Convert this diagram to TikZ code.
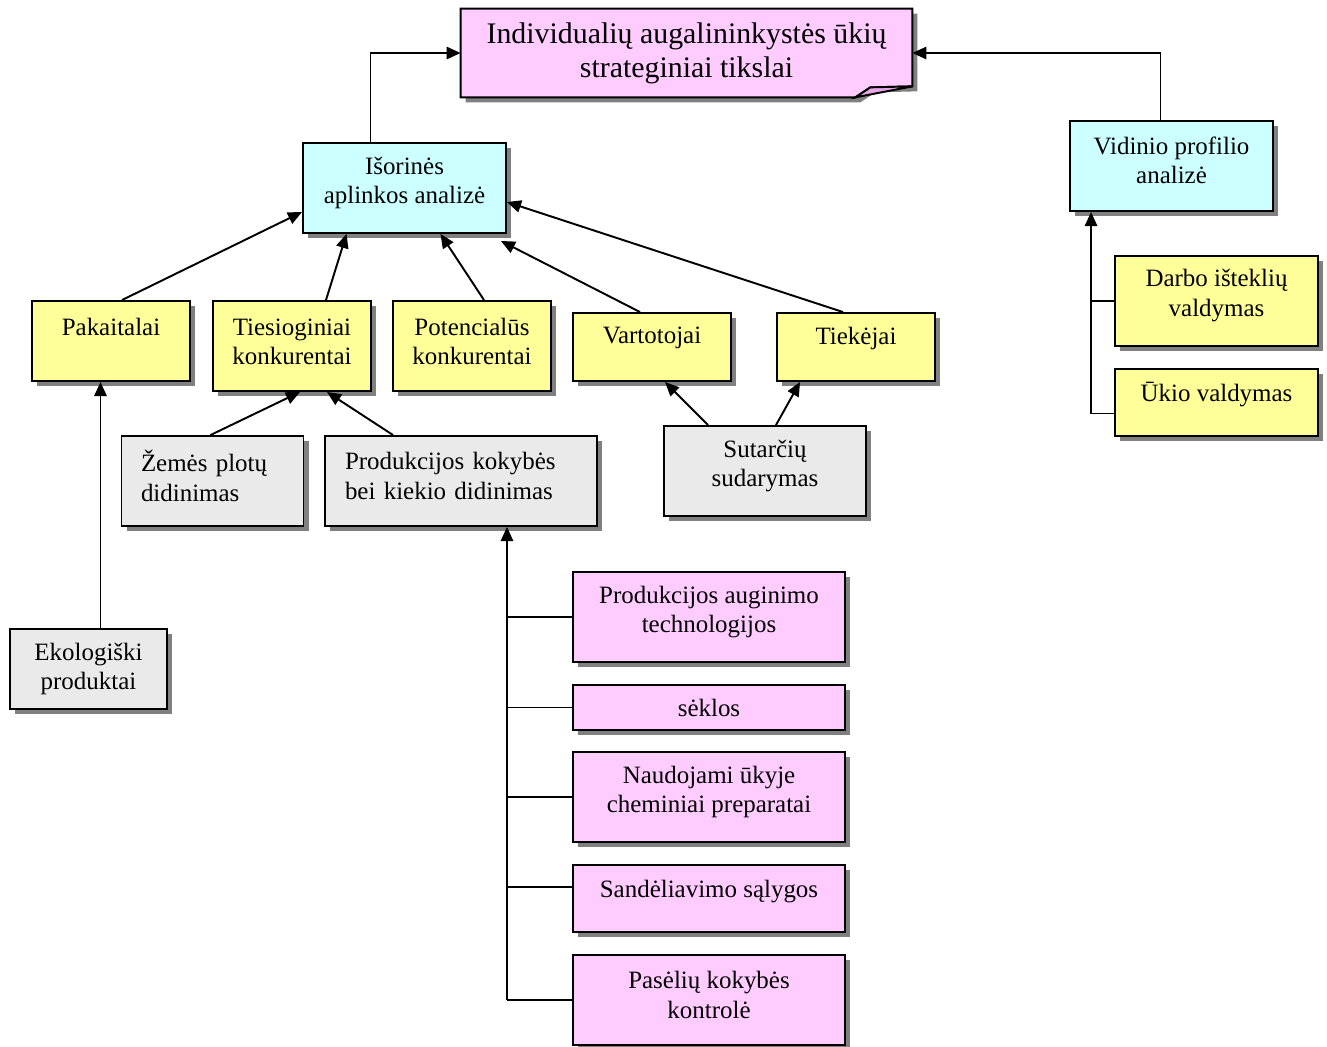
\documentclass[tikz,border=0pt]{standalone}
\usepackage{fontspec}
\setmainfont{Liberation Serif}
\usetikzlibrary{arrows.meta,shadows,backgrounds}

\definecolor{cyanfill}{HTML}{CCFFFF}
\definecolor{yellowfill}{HTML}{FFFF99}
\definecolor{grayfill}{HTML}{EAEAEA}
\definecolor{pinkfill}{HTML}{FFCCFF}
\definecolor{foldfill}{HTML}{E6A6E6}
\definecolor{shadowgray}{HTML}{808080}

\newcommand{\px}{0.02cm}

\tikzset{
  boxshadow/.style={drop shadow={shadow xshift=5*\px, shadow yshift=-5*\px,
    fill=shadowgray, opacity=1}},
  box/.style={draw, line width=1.1pt, align=center, inner sep=2pt,
    font=\fontsize{14.2}{16.8}\selectfont, boxshadow},
  cyanbox/.style={box, fill=cyanfill},
  yellowbox/.style={box, fill=yellowfill},
  graybox/.style={box, fill=grayfill},
  pinkbox/.style={box, fill=pinkfill},
  leftbox/.style={graybox, align=left, inner xsep=0.39cm},
  lift/.style={text depth=#1},
  conn/.style={-{Triangle[length=8pt,width=7pt]}, line width=1.1pt},
  line/.style={line width=1.1pt}
}

\begin{document}
\begin{tikzpicture}[x=\px, y=-\px]
\useasboundingbox (0,0) rectangle (1327,1046);

% goal
\node[align=center, font=\fontsize{17}{19.5}\selectfont,
      minimum width=451*\px, minimum height=88*\px] (goal) at (686.5,53)
      {Individualių augalininkystės ūkių\\strateginiai tikslai};
\begin{scope}[on background layer]
\draw[line width=1.1pt, fill=pinkfill, boxshadow] (goal.north west) -- (goal.north east)
  -- ([yshift=11*\px]goal.south east) -- ([xshift=-42*\px, yshift=10*\px]goal.south east)
  -- ([xshift=-57*\px]goal.south east) -- (goal.south west) -- cycle;
\draw[line width=1.1pt, fill=foldfill] ([xshift=-57*\px]goal.south east)
  -- ([xshift=-42*\px, yshift=10*\px]goal.south east) -- ([yshift=11*\px]goal.south east) -- cycle;
\end{scope}

% analysis
\node[cyanbox, lift=0.3cm, minimum width=203*\px, minimum height=90*\px] (isor) at (404.5,188)
  {Išorinės\\aplinkos analizė};
\node[cyanbox, lift=0.24cm, minimum width=203*\px, minimum height=90*\px] (vid) at (1171.5,166)
  {Vidinio profilio\\analizė};

% external factors
\node[yellowbox, lift=0.56cm, minimum width=158*\px, minimum height=80*\px] (pak) at (111,341) {Pakaitalai};
\node[yellowbox, lift=0.18cm, minimum width=158*\px, minimum height=90*\px] (ties) at (292,346) {Tiesioginiai\\konkurentai};
\node[yellowbox, lift=0.18cm, minimum width=158*\px, minimum height=90*\px] (pot) at (472,346) {Potencialūs\\konkurentai};
\node[yellowbox, lift=0.46cm, minimum width=158*\px, minimum height=68*\px] (vart) at (652,347) {Vartotojai};
\node[yellowbox, lift=0.46cm, minimum width=158*\px, minimum height=68*\px] (tiek) at (856,347) {Tiekėjai};

% internal factors
\node[yellowbox, lift=0.32cm, minimum width=203*\px, minimum height=90*\px] (darbo) at (1216.5,301) {Darbo išteklių\\valdymas};
\node[yellowbox, lift=0.44cm, minimum width=203*\px, minimum height=67*\px] (ukio) at (1216.5,402.5) {Ūkio valdymas};

% measures
\node[leftbox, lift=0.8cm, text width=143*\px, minimum width=181*\px, minimum height=90*\px] (zem) at (212.5,481)
  {Žemės plotų\\didinimas};
\node[leftbox, lift=0.8cm, text width=232*\px, minimum width=272*\px, minimum height=90*\px] (kok) at (461,481)
  {Produkcijos kokybės\\bei kiekio didinimas};
\node[graybox, lift=0.3cm, minimum width=202*\px, minimum height=90*\px] (sut) at (765,471) {Sutarčių\\sudarymas};
\node[graybox, minimum width=157*\px, minimum height=80*\px] (eko) at (88.5,669) {Ekologiški\\produktai};

% quality factors
\node[pinkbox, lift=0.3cm, minimum width=272*\px, minimum height=90*\px] (aug) at (709,617) {Produkcijos auginimo\\technologijos};
\node[pinkbox, minimum width=272*\px, minimum height=45*\px] (sek) at (709,707.5) {sėklos};
\node[pinkbox, lift=0.3cm, minimum width=272*\px, minimum height=90*\px] (naud) at (709,797) {Naudojami ūkyje\\cheminiai preparatai};
\node[pinkbox, lift=0.4cm, minimum width=272*\px, minimum height=67*\px] (sand) at (709,898.5) {Sandėliavimo sąlygos};
\node[pinkbox, lift=0.2cm, minimum width=272*\px, minimum height=90*\px] (pas) at (709,1000) {Pasėlių kokybės\\kontrolė};

% connectors to goal
\draw[conn] ([xshift=-34*\px]isor.north) |- (goal.west);
\draw[conn] ([xshift=-11*\px]vid.north) |- (goal.east);

% connectors to external analysis
\draw[conn] ([xshift=11*\px]pak.north) -- ([yshift=-24*\px]isor.west);
\draw[conn] ([xshift=34*\px]ties.north) -- ([xshift=-58*\px]isor.south);
\draw[conn] ([xshift=12*\px]pot.north) -- ([xshift=36*\px]isor.south);
\draw[conn] ([xshift=-12*\px]vart.north) -- ([xshift=-6*\px, yshift=-7*\px]isor.south east);
\draw[conn] ([xshift=-13*\px]tiek.north) -- ([yshift=-14*\px]isor.east);

% lower level
\draw[conn] ([xshift=-2*\px]zem.north) -- ([xshift=8*\px]ties.south);
\draw[conn] ([xshift=-68*\px]kok.north) -- ([xshift=35*\px]ties.south);
\draw[conn] ([xshift=-57*\px]sut.north) -- ([xshift=13*\px]vart.south);
\draw[conn] ([xshift=11*\px]sut.north) -- ([xshift=-56*\px]tiek.south);
\draw[conn] ([xshift=12*\px]eko.north) -- ([xshift=12*\px]eko.north |- pak.south);

% internal profile branches
\coordinate (vtrunk) at ([xshift=22*\px]vid.south west);
\draw[conn] ([yshift=-11*\px]ukio.west) -| (vtrunk);
\draw[line] (darbo.west) -- (darbo.west -| vtrunk);

% quality branches
\coordinate (trunk) at ([xshift=46*\px]kok.south);
\draw[conn] (trunk |- pas.west) -- (trunk);
\foreach \n in {aug,sek,naud,pas}
  \draw[line] (\n.west) -- (\n.west -| trunk);
\draw[line] ([yshift=11.5*\px]sand.west) -- ([yshift=11.5*\px]sand.west -| trunk);
\end{tikzpicture}
\end{document}
